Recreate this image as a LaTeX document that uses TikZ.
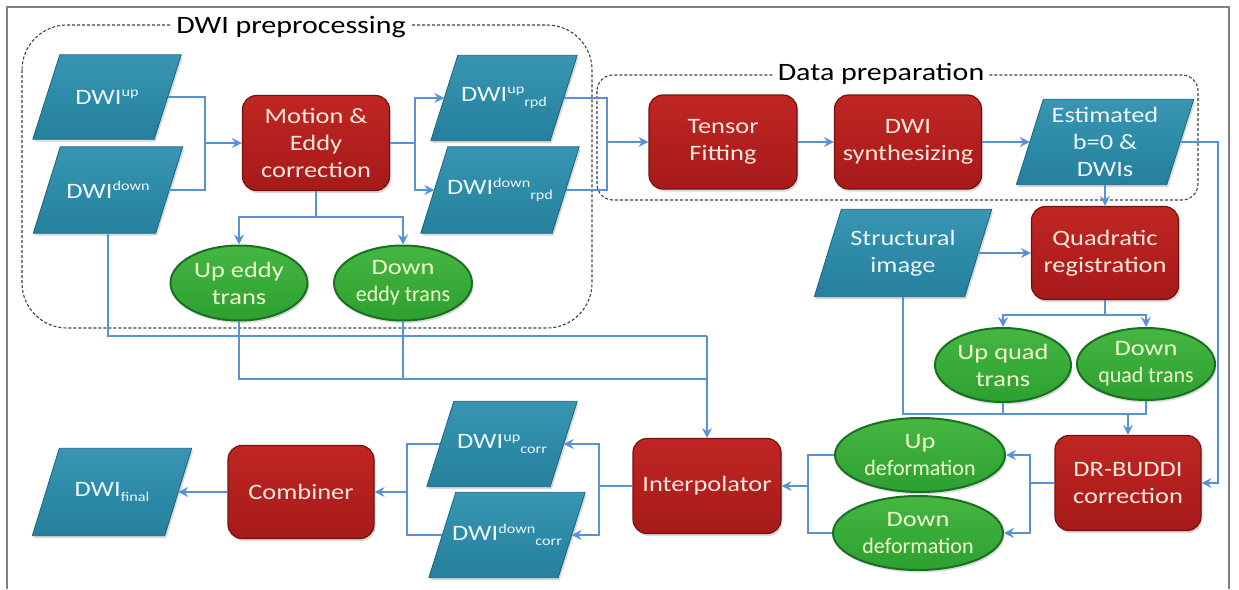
\documentclass[tikz,border=0pt]{standalone}
\usepackage{fontspec}
\setmainfont{Carlito}[FakeStretch=1.2]
\newfontfamily\condfont{Carlito}[FakeStretch=1.0]
\usetikzlibrary{arrows.meta,backgrounds,calc,shapes.geometric,shadows}
\definecolor{teal1}{RGB}{36,128,156}
\definecolor{teal2}{RGB}{56,150,178}
\definecolor{tealb}{RGB}{26,100,126}
\definecolor{red1}{RGB}{166,26,26}
\definecolor{red2}{RGB}{192,38,34}
\definecolor{redb}{RGB}{118,16,16}
\definecolor{grn1}{RGB}{44,160,48}
\definecolor{grn2}{RGB}{70,182,66}
\definecolor{grnb}{RGB}{26,112,34}
\definecolor{conn}{RGB}{88,146,214}
\definecolor{redtxt}{RGB}{255,232,222}
\definecolor{grntxt}{RGB}{240,250,205}
\definecolor{paratxt}{RGB}{236,246,250}
\newcommand\sups[1]{\raisebox{7.5pt}{\fontsize{13.5}{13.5}\selectfont #1}}
\newcommand\subs[1]{\raisebox{-5pt}{\fontsize{13.5}{13.5}\selectfont #1}}
\newcommand\cnd[1]{{\condfont #1}}
\begin{document}
\begin{tikzpicture}[x=1pt,y=-1pt,
  txt/.style={font=\fontsize{22}{27}\selectfont, align=center, inner sep=0pt},
  para/.style={txt, text=paratxt, minimum height=85pt},
  redbox/.style={txt, text=redtxt, rounded corners=14pt, draw=redb, line width=1.2pt,
     top color=red2, bottom color=red1, minimum width=147pt, minimum height=94pt,
     drop shadow={shadow xshift=1.5pt, shadow yshift=-2.5pt, opacity=0.3}},
  oval/.style={txt, text=grntxt, ellipse, draw=grnb, line width=2pt,
     top color=grn2, bottom color=grn1, minimum width=137pt, minimum height=75pt,
     drop shadow={shadow xshift=1.5pt, shadow yshift=-2.5pt, opacity=0.3}},
  line/.style={draw=conn, line width=1.3pt},
  arr/.style={line, -{Stealth[length=10pt,width=10pt,inset=3.5pt]}},
  dashbox/.style={draw=black!75, line width=1.1pt, dash pattern=on 3pt off 2pt},
  boxlabel/.style={font=\fontsize{25}{28}\selectfont, fill=white, inner xsep=5pt, inner ysep=1pt, text=black},
  parafill/.style={draw=tealb, line width=0.8pt, top color=teal2, bottom color=teal1,
     drop shadow={shadow xshift=1.5pt, shadow yshift=-2.5pt, opacity=0.3}}
]
\useasboundingbox (0,0) rectangle (1239,589);
\draw[black!50, line width=1.5pt] (7,589) -- (7,7) -- (1229,7) -- (1229,589);

% parallelogram nodes (text boxes; the slanted shape is drawn behind)
\node[para, minimum width=121pt, minimum height=84pt] (up) at (107,97) {DWI\sups{up}};
\node[para, minimum width=122pt, minimum height=86pt] (down) at (108,190) {DWI\sups{down}};
\node[para, minimum width=119pt] (uprpd) at (504,98) {DWI\sups{up}\subs{rpd}};
\node[para, minimum width=131pt, minimum height=86pt] (downrpd) at (500,190) {DWI\sups{down}\subs{rpd}};
\node[para, minimum width=150pt] (est) at (1105,142) {Estimated\\b=0 \&\\DWIs};
\node[para, minimum width=150pt, minimum height=87pt] (struct) at (903,253) {Structural\\image};
\node[para, minimum width=123pt] (upcorr) at (502,444) {DWI\sups{up}\subs{corr}};
\node[para, minimum width=129pt] (downcorr) at (507,535) {DWI\sups{down}\subs{corr}};
\node[para, minimum width=132pt, minimum height=87pt] (final) at (112,492) {DWI\subs{final}};

% red process boxes
\node[redbox, minimum height=95pt] (mec) at (316,143) {Motion \&\\Eddy\\correction};
\node[redbox, minimum width=148pt] (tensor) at (723,142) {Tensor\\Fitting};
\node[redbox] (synth) at (908,142) {DWI\\synthesizing};
\node[redbox, minimum height=93pt] (quad) at (1105,253) {Quadratic\\registration};
\node[redbox, minimum width=146pt, minimum height=95pt] (drb) at (1128,483) {DR-BUDDI\\correction};
\node[redbox, minimum width=148pt, minimum height=95pt] (interp) at (707,486) {Interpolator};
\node[redbox, minimum width=146pt, minimum height=93pt] (comb) at (301,492) {Combiner};

% green ellipses
\node[oval] (upeddy) at (239,283) {Up eddy\\trans};
\node[oval, minimum width=138pt] (downeddy) at (403,283) {Down\\\cnd{eddy trans}};
\node[oval, minimum width=136pt, minimum height=74pt] (upquad) at (1003,365) {Up quad\\trans};
\node[oval, minimum width=138pt, minimum height=72pt] (downquad) at (1146,364) {Down\\\cnd{quad trans}};
\node[oval, minimum width=170pt, minimum height=74pt] (updef) at (920,455) {Up\\\cnd{deformation}};
\node[oval, minimum width=170pt, minimum height=74pt] (downdef) at (918,533) {Down\\\cnd{deformation}};

% group labels
\node[boxlabel] (lblpre) at (291,27) {DWI preprocessing};
\node[boxlabel] (lbldata) at (881,74) {Data preparation};

\begin{scope}[on background layer]
  \draw[dashbox, rounded corners=45pt] (22,25) rectangle (592,328);
  \draw[dashbox, rounded corners=16pt] (597,75) rectangle (1198,200);
  \foreach \n in {up,down,uprpd,downrpd,est,struct,upcorr,downcorr,final}
    \path[parafill] ($(\n.north west)+(13.5,0)$) -- ($(\n.north east)+(13.5,0)$)
      -- ($(\n.south east)+(-13.5,0)$) -- ($(\n.south west)+(-13.5,0)$) -- cycle;
\end{scope}

% junction points
\coordinate (j1) at (205,143);
\coordinate (j2) at (415,143);
\coordinate (j3) at (316,217);
\coordinate (j4) at (607,142);
\coordinate (j5) at (1218,142);
\coordinate (j6) at (1105,315);
\coordinate (j7) at (1128,414);
\coordinate (j8) at (1030,483);
\coordinate (j9) at (808,486);
\coordinate (j10) at (707,336);
\coordinate (j11) at (707,379);
\coordinate (j12) at (599,486);
\coordinate (j13) at (407,492);

% connectors
\draw[line] (up.east) -| (j1);
\draw[line] (down.east) -| (j1);
\draw[arr] (j1) -- (mec.west);
\draw[line] (mec.east) -- (j2);
\draw[arr] (j2) |- (uprpd.west);
\draw[arr] (j2) |- (downrpd.west);
\draw[line] (mec.south) -- (j3);
\draw[arr] (j3) -| (upeddy.north);
\draw[arr] (j3) -| (downeddy.north);
\draw[line] (uprpd.east) -| (j4);
\draw[line] (downrpd.east) -| (j4);
\draw[arr] (j4) -- (tensor.west);
\draw[arr] (tensor.east) -- (synth.west);
\draw[arr] (synth.east) -- (est.west);
\draw[arr] (est.south) -- (quad.north);
\draw[arr] (est.east) -- (est.east -| j5) |- (drb.east);
\draw[arr] (struct.east) -- (struct.east -| quad.west);
\draw[line] (quad.south) -- (j6);
\draw[arr] (j6) -| (upquad.north);
\draw[arr] (j6) -| (downquad.north);
\draw[line] (struct.south) |- (downquad.south |- j7) -- (downquad.south);
\draw[line] (upquad.south) -- (upquad.south |- j7);
\draw[arr] (j7) -- (drb.north);
\draw[line] (drb.west) -- (j8);
\draw[arr] (j8) |- (updef.east);
\draw[arr] (j8) |- (downdef.east);
\draw[line] (updef.west) -| (j9);
\draw[line] (downdef.west) -| (j9);
\draw[arr] (j9) -- (interp.east);
\draw[line] (down.south) |- (j10);
\draw[line] (upeddy.south) |- (j11);
\draw[line] (downeddy.south) -- (downeddy.south |- j11);
\draw[arr] (j10) -- (interp.north);
\draw[line] (interp.west) -- (j12);
\draw[arr] (j12) |- (upcorr.east);
\draw[arr] (j12) |- (downcorr.east);
\draw[line] (upcorr.west) -| (j13);
\draw[line] (downcorr.west) -| (j13);
\draw[arr] (j13) -- (comb.east);
\draw[arr] (comb.west) -- (final.east);
\end{tikzpicture}
\end{document}
